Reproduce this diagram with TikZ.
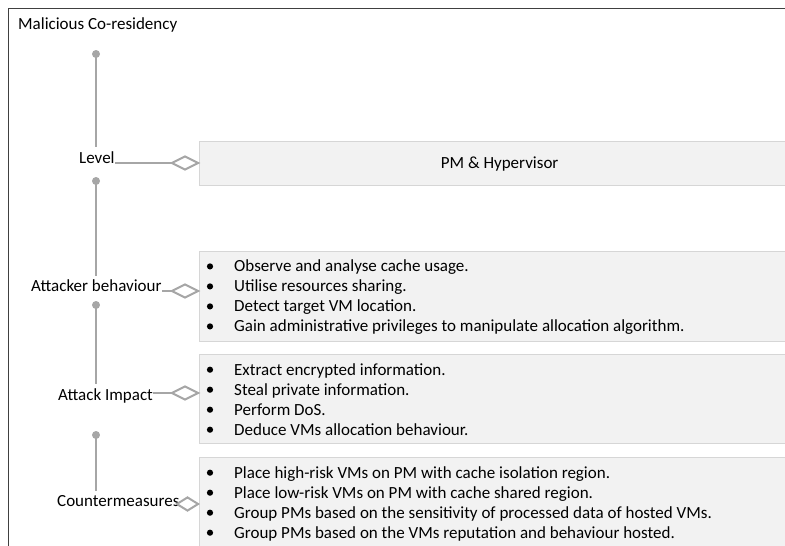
\documentclass[tikz,border=0pt]{standalone}
\usepackage{fontspec}
\setmainfont{Carlito}
\usetikzlibrary{shapes.geometric}

\definecolor{linegray}{HTML}{A6A6A6}
\definecolor{boxfill}{HTML}{F2F2F2}
\definecolor{boxedge}{HTML}{D6D6D6}
\definecolor{framegray}{HTML}{404040}

\tikzset{
  txt/.style={font=\fontsize{17}{20}\selectfont, inner sep=0pt, text=black},
  lbl/.style={txt, anchor=base west, text height=13pt, text depth=4pt, inner ysep=3pt},
  bul/.style={txt, anchor=base west},
  dotb/.style={circle, fill=black, inner sep=0pt, minimum size=6.2pt},
  infobox/.style={rectangle, draw=boxedge, line width=1.3pt, fill=boxfill,
    minimum width=600pt, anchor=north west, inner sep=0pt},
  conn/.style={draw=linegray, line width=2.6pt},
  knob/.style={circle, fill=linegray, inner sep=0pt, minimum size=8pt},
  diam/.style={diamond, draw=linegray, line width=2pt, fill=white, inner sep=0pt,
    minimum width=27pt, minimum height=14pt, anchor=east},
}
% one bulleted line: name, baseline, text
\newcommand{\bline}[3]{%
  \node[bul] (#1) at (234,#2) {#3};
  \node[dotb] (#1-dot) at (210,#2-5.3) {};}

\begin{document}
\begin{tikzpicture}[x=1pt,y=-1pt]
\useasboundingbox (0,0) rectangle (785,546);
\clip (0,0) rectangle (785,546);

% outer frame
\draw[framegray, line width=1pt] (8,560) -- (8,8) -- (800,8);
\node[txt, anchor=base west] (title) at (18,29) {Malicious Co-residency};

% content boxes
\node[infobox, minimum height=44pt] (levelbox) at (199,141) {};
\node[txt] (levelval) at (levelbox.center) {PM \& Hypervisor};
\node[infobox, minimum height=90pt] (attbox) at (199,251) {};
\node[infobox, minimum height=89pt] (impbox) at (199,354) {};
\node[infobox, minimum height=110pt] (cntbox) at (199,457) {};

% bullet lists
\bline{a1}{271.7}{Observe and analyse cache usage.}
\bline{a2}{291.7}{Utilise resources sharing.}
\bline{a3}{311.7}{Detect target VM location.}
\bline{a4}{331.7}{Gain administrative privileges to manipulate allocation algorithm.}

\bline{i1}{375}{Extract encrypted information.}
\bline{i2}{395}{Steal private information.}
\bline{i3}{415}{Perform DoS.}
\bline{i4}{435}{Deduce VMs allocation behaviour.}

\bline{c1}{478}{Place high-risk VMs on PM with cache isolation region.}
\bline{c2}{498}{Place low-risk VMs on PM with cache shared region.}
\bline{c3}{518}{Group PMs based on the sensitivity of processed data of hosted VMs.}
\bline{c4}{538}{Group PMs based on the VMs reputation and behaviour hosted.}

% category labels
\node[lbl] (lvl) at (79,163) {Level};
\node[lbl] (att) at (31,291.7) {Attacker behaviour};
\node[lbl] (imp) at (58,400) {Attack Impact};
\node[lbl] (cnt) at (57,506.7) {Countermeasures};

% stems with their end knobs
\node[knob] (k1) at (96,54) {};
\node[knob] (k2) at (96,181) {};
\node[knob] (k3) at (96,305) {};
\node[knob] (k4) at (96,435) {};
\draw[conn] (k1.center) -- (k1.center |- lvl.north);
\draw[conn] (k2.center) -- (k2.center |- att.north);
\draw[conn] (k3.center) -- (k3.center |- imp.north);
\draw[conn] (k4.center) -- (k4.center |- cnt.north);

% aggregation diamonds and links
\node[diam] (d1) at (199.5,163) {};
\node[diam] (d2) at (199.5,291) {};
\node[diam] (d3) at (199.5,393) {};
\node[diam, minimum width=22pt] (d4) at (199.5,504) {};
\draw[conn] (d1.west) -- (d1.west -| lvl.east);
\draw[conn] (d2.west) -- (d2.west -| att.east);
\draw[conn] (d3.west) -- (d3.west -| imp.east);
\end{tikzpicture}
\end{document}
